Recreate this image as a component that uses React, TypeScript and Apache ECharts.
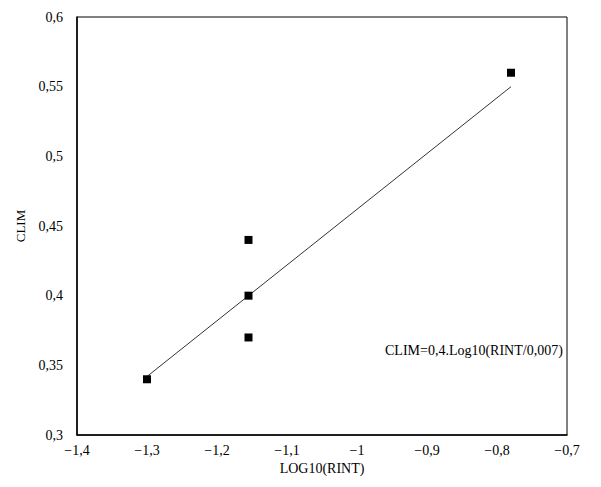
import React, { useEffect, useRef } from "react";
import * as echarts from "echarts";

const pointsX = [-1.3, -1.155, -1.155, -1.155, -0.78];
const pointsY = [0.34, 0.44, 0.4, 0.37, 0.56];
const fitX = [-1.3, -0.78];
const fitY = [0.342, 0.55];
const equationText = "CLIM=0,4.Log10(RINT/0,007)";

const fmt = (v: number) => {
  const s = String(Number(v.toFixed(2))).replace(".", ",");
  return s.startsWith("-") ? "\u2212" + s.slice(1) : s;
};

export default function App() {
  const ref = useRef<HTMLDivElement>(null);
  useEffect(() => {
    if (!ref.current) return;
    const chart = echarts.init(ref.current, null, { renderer: "svg" });
    const font = "'Liberation Serif', 'Times New Roman', serif";
    chart.setOption({
      animation: false,
      backgroundColor: "#fff",
      textStyle: { fontFamily: font },
      grid: {
        left: 77,
        right: 34,
        top: 17,
        bottom: 52,
        show: true,
        borderColor: "#000",
        borderWidth: 1,
      },
      xAxis: {
        type: "value",
        min: -1.4,
        max: -0.7,
        interval: 0.1,
        name: "LOG10(RINT)",
        nameLocation: "middle",
        nameGap: 26,
        nameTextStyle: { color: "#000", fontSize: 14, fontWeight: "normal", fontFamily: font },
        axisLine: { show: true, lineStyle: { color: "#000", width: 1.5 } },
        axisTick: { show: false },
        splitLine: { show: false },
        axisLabel: { color: "#000", fontSize: 14, fontFamily: font, margin: 8, formatter: fmt },
      },
      yAxis: {
        type: "value",
        min: 0.3,
        max: 0.6,
        interval: 0.05,
        name: "CLIM",
        nameLocation: "middle",
        nameGap: 50,
        nameTextStyle: { color: "#000", fontSize: 13, fontWeight: "normal", fontFamily: font },
        axisLine: { show: true, lineStyle: { color: "#000", width: 1.5 } },
        axisTick: { show: false },
        splitLine: { show: false },
        axisLabel: { color: "#000", fontSize: 14, fontFamily: font, margin: 14, formatter: fmt },
      },
      series: [
        {
          type: "line",
          data: fitX.map((x, i) => [x, fitY[i]]),
          showSymbol: false,
          symbol: "none",
          lineStyle: { color: "#333", width: 1 },
          z: 1,
        },
        {
          type: "scatter",
          data: pointsX.map((x, i) => [x, pointsY[i]]),
          symbol: "rect",
          symbolSize: 8,
          itemStyle: { color: "#000", opacity: 1 },
          z: 2,
        },
      ],
      graphic: [
        {
          type: "text",
          left: 385,
          top: 343,
          style: {
            text: equationText,
            fill: "#000",
            fontSize: 14,
            fontFamily: font,
          },
        },
      ],
    });
    return () => chart.dispose();
  }, []);
  return <div ref={ref} style={{ width: 601, height: 487, margin: -8 }} />;
}
